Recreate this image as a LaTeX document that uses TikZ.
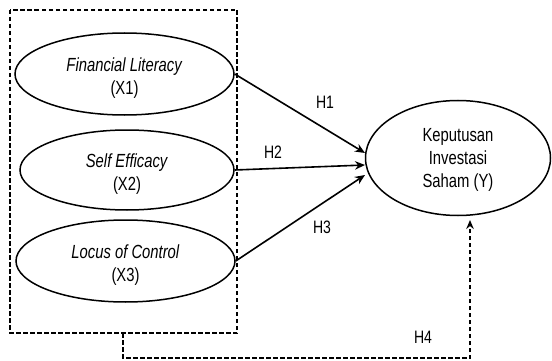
\documentclass[tikz,border=0pt]{standalone}
\usepackage{fontspec}
\setmainfont{Liberation Sans}[FakeStretch=0.78]
\usetikzlibrary{shapes.geometric,arrows.meta}
\begin{document}
\begin{tikzpicture}[x=1pt,y=-1pt,
  var/.style={draw,ellipse,line width=1.5pt,inner sep=0pt},
  txt/.style={align=center,inner sep=0pt,font=\fontsize{19}{23}\selectfont},
  lbl/.style={font=\fontsize{18}{20}\selectfont},
  arr/.style={line width=1.6pt,-{Stealth[length=10pt,width=8.5pt]}},
  dsh/.style={line width=1.5pt,dash pattern=on 4.5pt off 2.5pt}]
\useasboundingbox (0,0) rectangle (552,361);
\node[var,minimum width=219pt,minimum height=82pt] (x1) at (124.5,74) {};
\node[var,minimum width=214pt,minimum height=80pt] (x2) at (127,170) {};
\node[var,minimum width=219pt,minimum height=82pt] (x3) at (125.5,261) {};
\node[var,minimum width=185pt,minimum height=115pt] (y) at (458,158) {};
\node[txt] (x1t) at ([yshift=-4.5pt]x1.center) {\textit{Financial Literacy}\\(X1)};
\node[txt] (x2t) at ([yshift=-4.5pt]x2.center) {\textit{Self Efficacy}\\(X2)};
\node[txt] (x3t) at ([yshift=-4.5pt]x3.center) {\textit{Locus of Control}\\(X3)};
\node[txt] (yt) at ([yshift=-2pt]y.center) {Keputusan\\Investasi\\Saham (Y)};
\coordinate (t1) at (365,153);
\coordinate (t2) at (365,165);
\coordinate (t3) at (365,175);
\draw[arr] (x1.east) -- (t1);
\draw[arr] (x2.east) -- (t2);
\draw[arr] (x3.east) -- (t3);
\node[lbl] (h1) at (325,102) {H1};
\node[lbl] (h2) at (273,152) {H2};
\node[lbl] (h3) at (322,227) {H3};
\node[lbl] (h4) at (423,337) {H4};
\draw[dsh] (10,10) rectangle (237,333);
\coordinate (b0) at (123,333);
\coordinate (b1) at (123,358);
\coordinate (b2) at (470,358);
\coordinate (b3) at (470,220);
\draw[dsh,-{Stealth[length=9pt,width=7.5pt]}] (b0) -- (b1) -- (b2) -- (b3);
\end{tikzpicture}
\end{document}
